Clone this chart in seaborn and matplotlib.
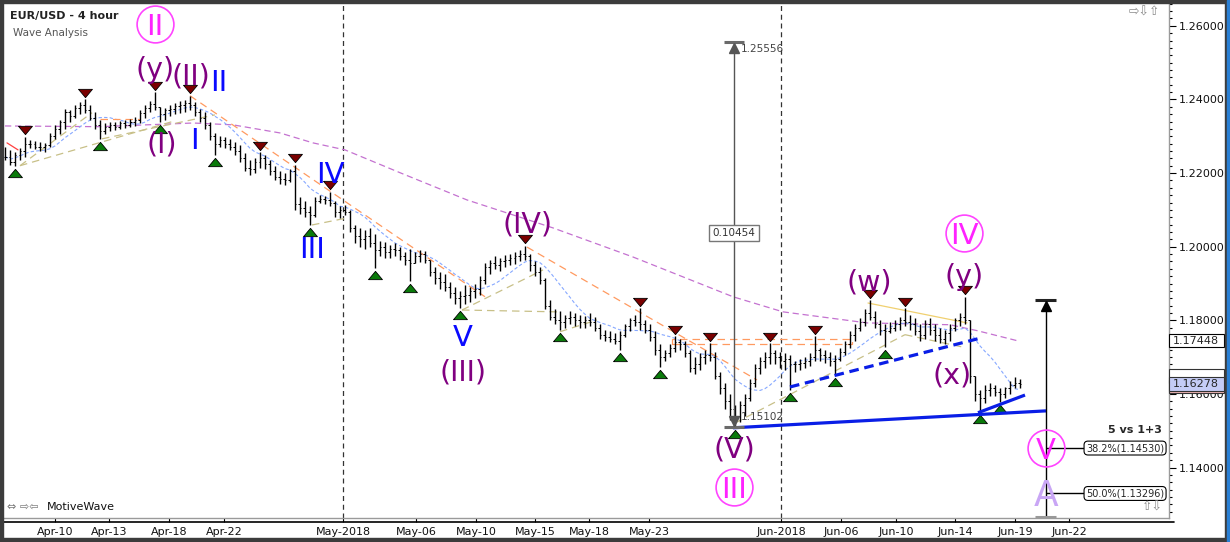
import numpy as np
import pandas as pd
import matplotlib
matplotlib.use("Agg")
import matplotlib.pyplot as plt
import matplotlib.transforms as mtransforms
from matplotlib.lines import Line2D
from matplotlib.patches import Rectangle
from matplotlib.ticker import MultipleLocator, FormatStrFormatter
import seaborn as sns

# EUR/USD 4h bars (open = previous close)
highs = [1.2271, 1.2263, 1.2258, 1.2268, 1.2298, 1.2290, 1.2288, 1.2285, 1.2282, 1.2310,
         1.2330, 1.2345, 1.2375, 1.2372, 1.2385, 1.2392, 1.2400, 1.2385, 1.2365, 1.2345,
         1.2335, 1.2340, 1.2338, 1.2342, 1.2345, 1.2348, 1.2352, 1.2370, 1.2385, 1.2395,
         1.2420, 1.2380, 1.2378, 1.2385, 1.2390, 1.2395, 1.2398, 1.2410, 1.2392, 1.2375,
         1.2365, 1.2340, 1.2310, 1.2300, 1.2298, 1.2292, 1.2285, 1.2275, 1.2255, 1.2235,
         1.2240, 1.2257, 1.2248, 1.2235, 1.2220, 1.2205, 1.2200, 1.2212, 1.2222, 1.2135,
         1.2125, 1.2110, 1.2135, 1.2140, 1.2138, 1.2149, 1.2125, 1.2110, 1.2112, 1.2100,
         1.2060, 1.2050, 1.2045, 1.2050, 1.2035, 1.2015, 1.2012, 1.2005, 1.2010, 1.2000,
         1.1985, 1.1995, 1.1985, 1.1990, 1.1988, 1.1965, 1.1945, 1.1930, 1.1925, 1.1905,
         1.1890, 1.1880, 1.1895, 1.1890, 1.1900, 1.1920, 1.1955, 1.1965, 1.1975, 1.1970,
         1.1978, 1.1980, 1.1985, 1.1990, 1.2002, 1.1980, 1.1960, 1.1945, 1.1915, 1.1855,
         1.1830, 1.1825, 1.1815, 1.1825, 1.1820, 1.1815, 1.1812, 1.1820, 1.1810, 1.1790,
         1.1775, 1.1770, 1.1765, 1.1770, 1.1790, 1.1805, 1.1815, 1.1833, 1.1800, 1.1790,
         1.1770, 1.1735, 1.1720, 1.1735, 1.1757, 1.1750, 1.1745, 1.1720, 1.1700, 1.1710,
         1.1720, 1.1738, 1.1715, 1.1660, 1.1630, 1.1600, 1.1570, 1.1580, 1.1600, 1.1640,
         1.1680, 1.1700, 1.1715, 1.1738, 1.1720, 1.1715, 1.1710, 1.1705, 1.1690, 1.1695,
         1.1700, 1.1710, 1.1757, 1.1725, 1.1720, 1.1715, 1.1705, 1.1725, 1.1745, 1.1770,
         1.1790, 1.1805, 1.1830, 1.1855, 1.1825, 1.1800, 1.1790, 1.1795, 1.1800, 1.1810,
         1.1833, 1.1815, 1.1805, 1.1790, 1.1800, 1.1805, 1.1790, 1.1780, 1.1775, 1.1790,
         1.1805, 1.1820, 1.1864, 1.1800, 1.1650, 1.1610, 1.1625, 1.1630, 1.1625, 1.1615,
         1.1620, 1.1635, 1.1645, 1.1640]
lows = [1.2236, 1.2222, 1.2220, 1.2236, 1.2244, 1.2268, 1.2265, 1.2260, 1.2258, 1.2272,
        1.2292, 1.2305, 1.2320, 1.2340, 1.2350, 1.2360, 1.2362, 1.2345, 1.2320, 1.2292,
        1.2305, 1.2315, 1.2318, 1.2320, 1.2322, 1.2325, 1.2328, 1.2335, 1.2350, 1.2365,
        1.2370, 1.2338, 1.2345, 1.2355, 1.2360, 1.2362, 1.2365, 1.2372, 1.2355, 1.2340,
        1.2320, 1.2290, 1.2249, 1.2270, 1.2268, 1.2262, 1.2250, 1.2230, 1.2205, 1.2195,
        1.2200, 1.2215, 1.2210, 1.2195, 1.2180, 1.2170, 1.2168, 1.2175, 1.2100, 1.2090,
        1.2080, 1.2058, 1.2080, 1.2118, 1.2115, 1.2110, 1.2080, 1.2078, 1.2085, 1.2040,
        1.2010, 1.2000, 1.1995, 1.2000, 1.1942, 1.1975, 1.1970, 1.1968, 1.1975, 1.1965,
        1.1950, 1.1906, 1.1955, 1.1958, 1.1955, 1.1920, 1.1900, 1.1885, 1.1880, 1.1860,
        1.1845, 1.1833, 1.1845, 1.1850, 1.1860, 1.1870, 1.1900, 1.1925, 1.1940, 1.1935,
        1.1945, 1.1950, 1.1952, 1.1960, 1.1965, 1.1935, 1.1920, 1.1900, 1.1830, 1.1800,
        1.1790, 1.1774, 1.1780, 1.1790, 1.1785, 1.1780, 1.1778, 1.1785, 1.1770, 1.1750,
        1.1745, 1.1740, 1.1735, 1.1719, 1.1755, 1.1770, 1.1785, 1.1775, 1.1765, 1.1745,
        1.1705, 1.1673, 1.1690, 1.1700, 1.1715, 1.1720, 1.1700, 1.1660, 1.1655, 1.1665,
        1.1680, 1.1690, 1.1640, 1.1600, 1.1560, 1.1530, 1.1510, 1.1525, 1.1540, 1.1580,
        1.1620, 1.1655, 1.1670, 1.1680, 1.1680, 1.1670, 1.1665, 1.1610, 1.1660, 1.1665,
        1.1670, 1.1675, 1.1690, 1.1690, 1.1685, 1.1675, 1.1651, 1.1690, 1.1705, 1.1725,
        1.1745, 1.1770, 1.1785, 1.1800, 1.1780, 1.1760, 1.1728, 1.1765, 1.1770, 1.1775,
        1.1785, 1.1775, 1.1760, 1.1745, 1.1750, 1.1760, 1.1745, 1.1738, 1.1735, 1.1745,
        1.1770, 1.1785, 1.1790, 1.1630, 1.1580, 1.1551, 1.1575, 1.1595, 1.1595, 1.1578,
        1.1590, 1.1600, 1.1615, 1.1615]
closes = [1.2245, 1.2230, 1.2250, 1.2260, 1.2280, 1.2280, 1.2272, 1.2270, 1.2275, 1.2300,
          1.2320, 1.2338, 1.2365, 1.2355, 1.2378, 1.2385, 1.2370, 1.2350, 1.2330, 1.2315,
          1.2325, 1.2330, 1.2325, 1.2335, 1.2330, 1.2340, 1.2345, 1.2362, 1.2378, 1.2388,
          1.2380, 1.2360, 1.2370, 1.2375, 1.2382, 1.2385, 1.2390, 1.2385, 1.2365, 1.2350,
          1.2330, 1.2300, 1.2280, 1.2290, 1.2280, 1.2270, 1.2260, 1.2240, 1.2215, 1.2210,
          1.2230, 1.2240, 1.2225, 1.2205, 1.2190, 1.2185, 1.2180, 1.2205, 1.2115, 1.2105,
          1.2095, 1.2085, 1.2125, 1.2130, 1.2128, 1.2120, 1.2095, 1.2100, 1.2095, 1.2050,
          1.2030, 1.2020, 1.2030, 1.2010, 1.1990, 1.2000, 1.1985, 1.1995, 1.1990, 1.1975,
          1.1965, 1.1955, 1.1975, 1.1980, 1.1965, 1.1930, 1.1915, 1.1905, 1.1890, 1.1875,
          1.1860, 1.1865, 1.1870, 1.1880, 1.1885, 1.1910, 1.1945, 1.1955, 1.1950, 1.1960,
          1.1965, 1.1970, 1.1975, 1.1980, 1.1975, 1.1950, 1.1930, 1.1910, 1.1840, 1.1810,
          1.1800, 1.1795, 1.1805, 1.1810, 1.1800, 1.1795, 1.1800, 1.1795, 1.1780, 1.1760,
          1.1755, 1.1750, 1.1745, 1.1760, 1.1785, 1.1800, 1.1795, 1.1790, 1.1775, 1.1755,
          1.1720, 1.1700, 1.1710, 1.1725, 1.1740, 1.1735, 1.1710, 1.1670, 1.1680, 1.1700,
          1.1705, 1.1700, 1.1650, 1.1615, 1.1580, 1.1560, 1.1540, 1.1570, 1.1590, 1.1630,
          1.1670, 1.1690, 1.1700, 1.1710, 1.1700, 1.1690, 1.1695, 1.1680, 1.1680, 1.1685,
          1.1690, 1.1700, 1.1720, 1.1705, 1.1700, 1.1690, 1.1695, 1.1715, 1.1735, 1.1760,
          1.1780, 1.1795, 1.1820, 1.1810, 1.1790, 1.1775, 1.1770, 1.1780, 1.1790, 1.1800,
          1.1795, 1.1790, 1.1770, 1.1760, 1.1790, 1.1775, 1.1760, 1.1750, 1.1765, 1.1780,
          1.1800, 1.1810, 1.1800, 1.1650, 1.1600, 1.1590, 1.1610, 1.1615, 1.1605, 1.1600,
          1.1615, 1.1625, 1.1630, 1.16278]

date_labels = ["Apr-10", "Apr-13", "Apr-18", "Apr-22", "May-2018", "May-06", "May-10", "May-15",
               "May-18", "May-23", "Jun-2018", "Jun-06", "Jun-10", "Jun-14", "Jun-19", "Jun-22"]
date_bars = [10, 20.8, 32.8, 43.8, 67.6, 82.2, 94.2, 106, 116.8, 128.8, 155.2, 167.2, 178.2, 190, 202, 212.8]
month_starts = ["May-2018", "Jun-2018"]

swing_high_bars = [4, 16, 30, 37, 51, 58, 65, 104, 127, 134, 141, 153, 162, 173, 180, 192]
swing_low_bars = [2, 19, 31, 42, 61, 74, 81, 91, 111, 123, 131, 146, 157, 166, 176, 195, 199]

# long moving average (purple), read at a few points
slow_ma_bars = [0, 19, 37.6, 45.6, 55, 61.6, 68, 79, 92.4, 109.6, 125.6, 145.6, 155.6, 172.4, 189, 194.4, 202.4]
slow_ma_vals = [1.2328, 1.2326, 1.2336, 1.2331, 1.2309, 1.2282, 1.2263, 1.2201, 1.2127, 1.2051,
                1.1972, 1.1864, 1.1823, 1.1793, 1.1788, 1.1772, 1.17448]

orange_lines = [((37, 1.2410), (96, 1.1864)), ((104.4, 1.1999), (150.4, 1.1638)),
                ((19, 1.2347), (27, 1.2347))]
red_lines = [((0.4, 1.2282), (2.6, 1.2263))]
resistance_box = ((133.4, 169.4), (1.1736, 1.1748))
olive_lines = [((3, 1.2220), (17.4, 1.2364)), ((3, 1.2220), (34, 1.2342)), ((19.4, 1.2293), (42, 1.2358)),
               ((61.4, 1.2059), (68.4, 1.2078)), ((91.4, 1.1828), (107.6, 1.1937)),
               ((91.4, 1.1828), (110.4, 1.1823)), ((111, 1.1769), (118.4, 1.1801)),
               ((146, 1.1521), (180, 1.1761)), ((180, 1.1761), (192, 1.1726))]
yellow_lines = [((172.6, 1.1847), (192.4, 1.1793))]
blue_solid = [((145.6, 1.1508), (208.2, 1.1554)), ((194.6, 1.1549), (204, 1.1597))]
blue_dashed = [((157, 1.1619), (194.6, 1.1750))]

measure_bar, measure_low, measure_high = 145.8, 1.15102, 1.25556
proj_bar, proj_top = 208.2, 1.18555
fib_levels = [0.382, 0.5]
fib_prices = [1.14530, 1.13296]

purple_labels = ["(y)", "(II)", "(I)", "(III)", "(IV)", "(V)", "(w)", "(y)", "(x)"]
purple_bars = [30.0, 37.2, 31.4, 91.6, 104.6, 145.8, 172.8, 191.8, 189.4]
purple_prices = [1.2480, 1.2461, 1.2277, 1.1657, 1.2059, 1.1448, 1.1904, 1.1918, 1.1649]
blue_labels = ["II", "I", "IV", "III", "V"]
blue_bars = [42.8, 37.8, 65, 61.4, 91.6]
blue_prices = [1.2453, 1.2296, 1.2203, 1.2000, 1.1760]
pink_labels = ["II", "III", "IV", "V"]
pink_bars = [30, 145.8, 191.8, 208.2]
pink_prices = [1.2605, 1.1347, 1.2038, 1.1453]

sns.set_style("white")
plt.rcParams["font.family"] = ["DejaVu Sans"]

fig = plt.figure(figsize=(12.3, 5.42), dpi=100)
ax = fig.add_axes([3 / 1230, 24 / 542, 1166 / 1230, 515 / 542])
ylo, yhi = 1.1263, 1.2662
ax.set_xlim(-0.4, 232.8)
ax.set_ylim(ylo, yhi)

bars = np.arange(len(highs))
hi = np.array(highs)
lo = np.array(lows)
cl = np.array(closes)
op = np.clip(np.r_[cl[0], cl[:-1]], lo, hi)

# moving averages
fast = pd.DataFrame({"bar": bars, "ma": pd.Series(cl).rolling(10, min_periods=1).mean()})
slow = pd.DataFrame({"bar": slow_ma_bars, "ma": slow_ma_vals})
sns.lineplot(data=slow, x="bar", y="ma", ax=ax, color="#c472d0", lw=0.9,
             linestyle=(0, (5, 3)), zorder=2)
sns.lineplot(data=fast, x="bar", y="ma", ax=ax, color="#86a8ff", lw=0.8,
             linestyle=(0, (3, 2)), zorder=2)

for (b0, p0), (b1, p1) in orange_lines:
    ax.plot([b0, b1], [p0, p1], color="#ff9a60", lw=0.9, ls=(0, (6, 4)), zorder=2)
for (b0, p0), (b1, p1) in red_lines:
    ax.plot([b0, b1], [p0, p1], color="#ff4040", lw=0.9, zorder=2)
for (b0, p0), (b1, p1) in olive_lines:
    ax.plot([b0, b1], [p0, p1], color="#c8c088", lw=0.9, ls=(0, (6, 4)), zorder=2)
for (b0, p0), (b1, p1) in yellow_lines:
    ax.plot([b0, b1], [p0, p1], color="#f0d070", lw=0.9, zorder=2)
(bx0, bx1), (by0, by1) = resistance_box
ax.add_patch(Rectangle((bx0, by0), bx1 - bx0, by1 - by0, fill=False, ec="#ff9a60",
                       lw=0.9, ls=(0, (6, 4)), zorder=2))

# month separators
for m in month_starts:
    ax.axvline(date_bars[date_labels.index(m)], color="#333333", lw=0.9, ls=(0, (4, 3)), zorder=1)

# OHLC bars
ax.vlines(bars, lo, hi, color="black", lw=1.0, zorder=3)
ax.hlines(op, bars - 0.3, bars, color="black", lw=0.7, zorder=3)
ax.hlines(cl, bars, bars + 0.3, color="black", lw=0.7, zorder=3)

# swing markers
down_tri = [(-1, 0.6), (1, 0.6), (0, -0.6), (-1, 0.6)]
up_tri = [(-1, -0.6), (1, -0.6), (0, 0.6), (-1, -0.6)]
above = mtransforms.offset_copy(ax.transData, fig=fig, x=0, y=6.5, units="dots")
below = mtransforms.offset_copy(ax.transData, fig=fig, x=0, y=-7, units="dots")
ax.plot(swing_high_bars, hi[swing_high_bars], ls="none", marker=down_tri, ms=10,
        mfc="#7a0000", mec="black", mew=0.6, transform=above, zorder=4)
ax.plot(swing_low_bars, lo[swing_low_bars], ls="none", marker=up_tri, ms=10,
        mfc="#0a7a0a", mec="black", mew=0.6, transform=below, zorder=4)

# thick blue trend lines
for (b0, p0), (b1, p1) in blue_solid:
    ax.plot([b0, b1], [p0, p1], color="#0a1ee6", lw=2.3, solid_capstyle="butt", zorder=5)
for (b0, p0), (b1, p1) in blue_dashed:
    ax.plot([b0, b1], [p0, p1], color="#0a1ee6", lw=2.3, ls=(0, (3, 1.8)), zorder=5)

# measurement tool
grey = "#555555"
ax.vlines(measure_bar, measure_low, measure_high, color=grey, lw=1, zorder=6)
ax.hlines([measure_high, measure_low], measure_bar - 2, measure_bar + 2, color="#6a6a6a", lw=2.2, zorder=6)
ax.plot([measure_bar], [measure_high], marker="^", ms=7, color=grey, ls="none",
        transform=mtransforms.offset_copy(ax.transData, fig=fig, y=-6, units="dots"), zorder=6)
ax.plot([measure_bar], [measure_low], marker="v", ms=7, color=grey, ls="none",
        transform=mtransforms.offset_copy(ax.transData, fig=fig, y=6, units="dots"), zorder=6)
ax.text(measure_bar + 1.3, measure_high - 0.0019, f"{measure_high:.5f}", fontsize=7.5,
        color="#444444", ha="left", va="center", zorder=6)
ax.text(measure_bar + 1.3, measure_low + 0.0028, f"{measure_low:.5f}", fontsize=7.5,
        color="#444444", ha="left", va="center", zorder=6)
ax.text(measure_bar, (measure_high + measure_low) / 2 + 0.0004, f"{measure_high - measure_low:.5f}",
        fontsize=7.5, color="#333333", ha="center", va="center", zorder=7,
        bbox=dict(boxstyle="square,pad=0.3", fc="white", ec="#777777", lw=1))

# projection and fib levels
ax.vlines(proj_bar, ylo, proj_top, color="black", lw=1, zorder=6)
ax.hlines(proj_top, proj_bar - 2.1, proj_bar + 2.1, color="#222222", lw=2.2, zorder=6)
ax.hlines(ylo + 0.0003, proj_bar - 2.1, proj_bar + 2.1, color="#999999", lw=2.2, zorder=6)
ax.plot([proj_bar], [proj_top], marker="^", ms=7, color="black", ls="none",
        transform=mtransforms.offset_copy(ax.transData, fig=fig, y=-6, units="dots"), zorder=6)
ax.hlines(fib_prices, proj_bar, 215.8, color="black", lw=1, zorder=6)
for lvl, p in zip(fib_levels, fib_prices):
    ax.text(216.2, p, f"{lvl * 100:.1f}%({p:.5f})", fontsize=7, ha="left", va="center", zorder=7,
            bbox=dict(boxstyle="round,pad=0.2,rounding_size=0.4", fc="white", ec="black", lw=0.8))
ax.text(231.4, 1.1502, "5 vs 1+3", fontsize=8, fontweight="bold", ha="right", va="center", zorder=7)

# wave labels
for t, b, p in zip(purple_labels, purple_bars, purple_prices):
    ax.text(b, p, t, color="#800080", fontsize=20.5, ha="center", va="center", zorder=8)
for t, b, p in zip(blue_labels, blue_bars, blue_prices):
    ax.text(b, p, t, color="#0a0aff", fontsize=21, ha="center", va="center_baseline", zorder=8)
ax.plot(pink_bars, pink_prices, ls="none", marker="o", ms=26.5, mfc="none", mec="#ff44ff",
        mew=1.2, zorder=8)
for t, b, p in zip(pink_labels, pink_bars, pink_prices):
    ax.text(b, p, t, color="#ff22ff", fontsize=21, ha="center", va="center_baseline", zorder=8)
ax.text(proj_bar, 1.1331, "A", color="#c9a6f5", fontsize=26, ha="center", va="center_baseline", zorder=8)

# axes styling
ax.set_xlabel("")
ax.set_ylabel("")
for s in ["top", "left"]:
    ax.spines[s].set_visible(False)
for s in ["bottom", "right"]:
    ax.spines[s].set_color("#9a9a9a")
    ax.spines[s].set_linewidth(1)
ax.yaxis.tick_right()
ax.yaxis.set_major_locator(MultipleLocator(0.02))
ax.yaxis.set_minor_locator(MultipleLocator(0.002))
ax.yaxis.set_major_formatter(FormatStrFormatter("%.5f"))
ax.tick_params(axis="y", which="major", right=True, left=False, length=5, width=0.8,
               color="black", labelsize=8, pad=2, labelcolor="#111111")
ax.tick_params(axis="y", which="minor", right=True, left=False, length=2.5, width=0.8, color="black")
ax.set_xticks(date_bars)
ax.set_xticklabels(date_labels)
ax.tick_params(axis="x", bottom=True, length=3, width=0.8, color="black", labelsize=8, pad=3.5,
               labelcolor="#111111")
ax.add_line(Line2D([0, 1.0044], [-4 / 515, -4 / 515], transform=ax.transAxes, color="black",
                   lw=1.2, clip_on=False))

# right-hand price boxes
blend = mtransforms.blended_transform_factory(ax.transAxes, ax.transData)
box_w = 55 / 1166
ma_last = slow_ma_vals[-1]
ax.add_patch(Rectangle((1.0, ma_last - 0.0017), box_w, 0.0034, transform=blend, fc="white",
                       ec="black", lw=0.8, clip_on=False, zorder=9))
ax.text(1.0 + 4 / 1166, ma_last, f"{ma_last:.5f}", transform=blend, fontsize=8, ha="left",
        va="center", zorder=10, clip_on=False)
last = closes[-1]
ax.add_patch(Rectangle((1.0, last + 0.0002), box_w, 0.0037, transform=blend, fc="white",
                       ec="#333333", lw=0.8, clip_on=False, zorder=9))
ax.add_patch(Rectangle((1.0, last - 0.0024), box_w, 0.0035, transform=blend, fc="#f4b8b8",
                       ec="#333333", lw=0.8, clip_on=False, zorder=9))
ax.add_patch(Rectangle((1.0, last - 0.0019), box_w, 0.0038, transform=blend, fc="#c4ccf6",
                       ec="#333333", lw=0.8, clip_on=False, zorder=10))
ax.text(1.0 + 4 / 1166, last, f"{last:.5f}", transform=blend, fontsize=8, ha="left",
        va="center", zorder=11, clip_on=False)

# header, footer and frame
fig.text(10 / 1230, 1 - 16 / 542, "EUR/USD - 4 hour", fontsize=8, fontweight="bold",
         ha="left", va="center", color="#222222")
fig.text(13 / 1230, 1 - 33 / 542, "Wave Analysis", fontsize=7.5, ha="left", va="center",
         color="#555555")
fig.text(7 / 1230, 1 - 507 / 542, "⇔ ⇨⇦", fontsize=8, ha="left", va="center", color="#777777")
fig.text(47 / 1230, 1 - 507 / 542, "MotiveWave", fontsize=8, ha="left", va="center", color="#111111")
fig.text(1144 / 1230, 1 - 12 / 542, "⇨⇩⇧", fontsize=9, ha="center", va="center", color="#888888")
fig.text(1152 / 1230, 1 - 507 / 542, "⇧⇩", fontsize=9, ha="center", va="center", color="#888888")

frame = "#3c3c3c"
fig.add_artist(Rectangle((0, 1 - 3 / 542), 1, 3 / 542, transform=fig.transFigure, color=frame))
fig.add_artist(Rectangle((0, 0), 2.5 / 1230, 1, transform=fig.transFigure, color=frame))
fig.add_artist(Rectangle((0, 0), 1, 4 / 542, transform=fig.transFigure, color=frame))
fig.add_artist(Rectangle((1225 / 1230, 0), 2 / 1230, 1, transform=fig.transFigure, color=frame))
fig.add_artist(Rectangle((1227 / 1230, 0), 3 / 1230, 1, transform=fig.transFigure, color="#2a7fd4"))

fig.savefig("out.png", dpi=100)
